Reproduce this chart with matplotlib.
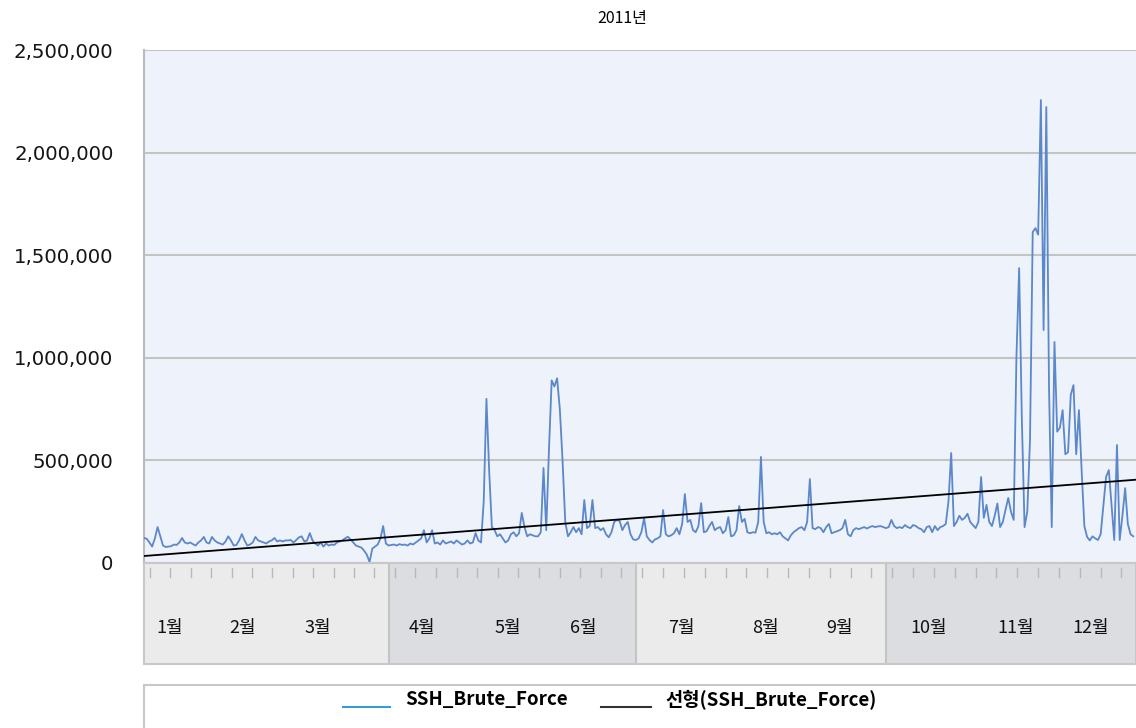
import numpy as np
import matplotlib
matplotlib.use("Agg")
from matplotlib import pyplot as plt

plt.rcParams['font.family'] = ['Noto Sans CJK KR', 'DejaVu Sans']

title = "2011년"
series_name = "SSH_Brute_Force"
trend_name = "선형(SSH_Brute_Force)"
months = ["1월", "2월", "3월", "4월", "5월", "6월", "7월", "8월", "9월", "10월", "11월", "12월"]
quarter_days = [90, 91, 92, 92]
y_ticks = [0, 500000, 1000000, 1500000, 2000000, 2500000]

# daily counts, in thousands
q1 = [122, 118, 100, 80, 120, 175, 130, 85, 78, 80, 82, 90, 88, 100, 122, 100, 95, 100, 92, 85,
      100, 110, 127, 100, 95, 127, 110, 100, 95, 90, 105, 130, 110, 85, 88, 110, 141, 110, 85, 90,
      100, 127, 110, 105, 100, 95, 105, 110, 122, 105, 110, 105, 110, 110, 112, 100, 112, 125, 130, 105,
      110, 146, 110, 95, 85, 100, 80, 95, 85, 90, 88, 100, 105, 110, 120, 128, 115, 100, 85, 80,
      75, 60, 40, 5, 70, 80, 90, 120, 180, 95]
q2 = [85, 88, 90, 85, 92, 88, 90, 85, 95, 90, 100, 110, 120, 160, 100, 120, 160, 95, 100, 90,
      110, 95, 100, 105, 95, 110, 100, 90, 95, 110, 95, 100, 146, 110, 100, 300, 800, 450, 175, 160,
      130, 140, 120, 100, 110, 140, 150, 130, 145, 244, 175, 130, 140, 135, 130, 130, 150, 463, 160, 550,
      890, 860, 900, 750, 500, 200, 130, 150, 175, 150, 170, 140, 307, 170, 180, 307, 170, 175, 160, 170,
      140, 125, 150, 200, 210, 205, 160, 185, 200, 140, 115]
q3 = [112, 120, 150, 219, 130, 112, 100, 115, 120, 130, 258, 140, 130, 135, 145, 170, 140, 190, 336, 200,
      210, 160, 150, 180, 292, 150, 155, 180, 200, 160, 170, 175, 145, 160, 224, 130, 135, 160, 278, 200,
      215, 150, 145, 150, 148, 200, 517, 200, 145, 150, 140, 145, 140, 150, 130, 120, 110, 135, 150, 160,
      170, 175, 160, 200, 409, 170, 165, 175, 170, 150, 175, 190, 145, 150, 155, 160, 170, 210, 140, 130,
      160, 170, 165, 170, 175, 168, 175, 180, 175, 178, 180, 175]
q4 = [170, 175, 210, 180, 170, 175, 170, 185, 175, 170, 185, 180, 170, 165, 150, 175, 180, 150, 180, 160,
      175, 180, 190, 300, 536, 180, 200, 230, 210, 220, 240, 200, 185, 170, 200, 419, 220, 283, 200, 180,
      230, 290, 175, 200, 260, 317, 250, 210, 1000, 1437, 700, 175, 250, 600, 1613, 1632, 1600, 2256, 1135, 2222,
      850, 175, 1077, 640, 660, 745, 530, 540, 820, 867, 530, 745, 450, 180, 127, 110, 130, 120, 112, 140,
      280, 420, 453, 280, 112, 575, 112, 230, 365, 190, 140, 130]

values = np.array(q1 + q2 + q3 + q4) * 1000
days = np.arange(len(values))

# linear trend (선형)
slope, intercept = np.polyfit(days, values, 1)

W, H = 1136, 728
fig = plt.figure(figsize=(W / 100, H / 100), dpi=100)

ax = fig.add_axes([144 / W, 1 - 563 / H, 992 / W, 513 / H])
ax.set_facecolor('#EEF2FA')
ax.plot(days, values, color='#5B87CB', lw=1.3, zorder=3)
ax.plot([0, 365], [intercept, slope * 365 + intercept], color='black', lw=1.3, zorder=4)
ax.set_xlim(0, 365)
ax.set_ylim(0, 2500000)
ax.set_yticks(y_ticks)
ax.set_yticklabels([f"{v:,}" for v in y_ticks], fontfamily='DejaVu Sans', fontsize=14.2, color='#151515')
ax.set_xticks([])
ax.grid(axis='y', color='#C4C4C4', lw=1.5)
ax.set_axisbelow(True)
for s in ['top', 'right', 'bottom']:
    ax.spines[s].set_visible(False)
ax.spines['left'].set_color('#BBBBBB')
ax.spines['left'].set_linewidth(1.5)
ax.tick_params(axis='y', length=0, pad=22)

fig.text(622 / W, 1 - 18 / H, title, ha='center', va='center', fontsize=11.5)

# month band under the plot
bx = fig.add_axes([144 / W, 1 - 664 / H, 992 / W, 101 / H])
bx.set_xlim(0, 365)
bx.set_ylim(0, 1)
start = 0
for i, n in enumerate(quarter_days):
    bx.axvspan(start, start + n, color='#EBEBEB' if i % 2 == 0 else '#DCDDE0', zorder=0)
    if start > 0:
        bx.axvline(start, color='#C4C4C4', lw=1.5)
    for k in range(12):
        t = start + n * (k + 0.3) / 12
        bx.plot([t, t], [0.86, 0.95], color='#B8B8B8', lw=1)
    start += n
label_pos = [9.6, 36.4, 64, 102.3, 134, 161.5, 197.6, 228.8, 256, 288.8, 320.6, 348.4]
for m, p in zip(months, label_pos):
    bx.text(p, 0.36, m, ha='center', va='center', fontsize=13, color='#111111')
bx.set_xticks([])
bx.set_yticks([])
for s in bx.spines.values():
    s.set_color('#C8C8C8')
    s.set_linewidth(1.5)

# legend box
lx = fig.add_axes([144 / W, -0.02, 1 - 144 / W + 0.01, (728 - 685) / H + 0.02])
lx.set_xlim(144, 1146)
lx.set_ylim(728 + 0.02 * H, 685)
lx.set_xticks([])
lx.set_yticks([])
for s in lx.spines.values():
    s.set_color('#C8C8C8')
    s.set_linewidth(1.5)
lx.plot([343, 390], [707, 707], color='#3A9AD9', lw=1.5)
lx.text(405, 700, series_name, ha='left', va='center', fontsize=13.5, fontweight='bold')
lx.plot([600, 650], [707, 707], color='#333333', lw=1.5)
lx.text(665, 700, trend_name, ha='left', va='center', fontsize=13.5, fontweight='bold')

fig.savefig("out.png", dpi=100)
